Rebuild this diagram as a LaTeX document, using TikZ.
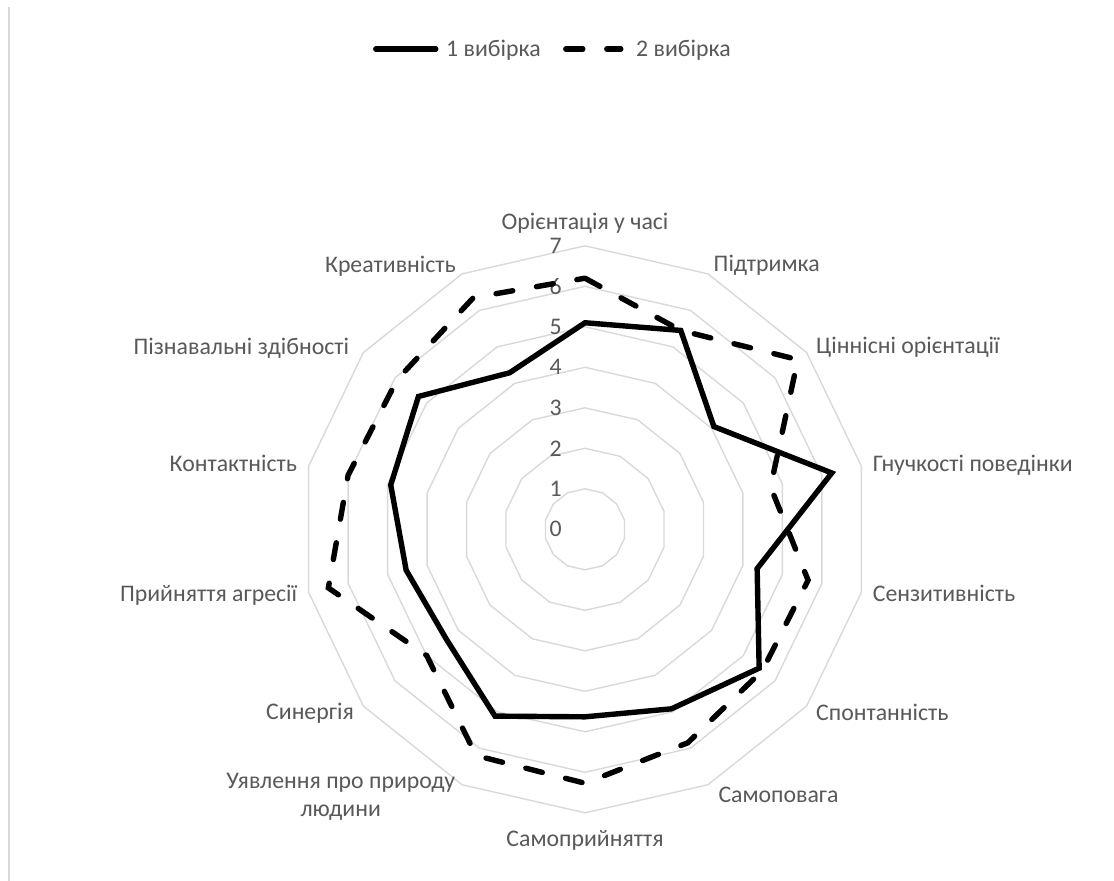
\documentclass[tikz,border=0pt]{standalone}
\usepackage{fontspec}
\setmainfont{Carlito}
\usetikzlibrary{calc}
\definecolor{gridgray}{HTML}{D9D9D9}
\definecolor{txtgray}{HTML}{595959}
\begin{document}
\begin{tikzpicture}[x=1pt,y=-1pt,
  lbl/.style={text=txtgray, font=\fontsize{23.8}{28}\selectfont, inner sep=0pt},
  gridline/.style={draw=gridgray, line width=1.4pt},
  ser1/.style={draw=black, line width=5.4pt, line cap=round},
  ser2/.style={draw=black, line width=5.4pt, line cap=round, dash pattern=on 17pt off 24pt}]
\useasboundingbox[fill=white] (0,0) rectangle (1114,881);
\coordinate (bt) at (9,7);
\coordinate (bb) at (9,881);
\draw[gridline] (bt) -- (bb);
\coordinate (C) at (585,529.3);
% rings
\foreach \r in {1,...,7}{
  \draw[gridline] ($(C)+(90:{\r*40.5pt})$)
    \foreach \k in {1,...,13}{ -- ($(C)+({90-\k*360/14}:{\r*40.5pt})$) } -- cycle;
}
% tick labels
\foreach \r in {0,...,7}{
  \node[lbl, anchor=east] (t\r) at ($(C)+(-23,{-\r*40.5})$) {\r};
}
% category labels
\node[lbl, anchor=base]      (l0)  at (585,229)   {Орієнтація у часі};
\node[lbl, anchor=base west] (l1)  at (713.5,271.7) {Підтримка};
\node[lbl, anchor=base west] (l2)  at (816,353.3) {Ціннісні орієнтації};
\node[lbl, anchor=base west] (l3)  at (872.7,471.7) {Гнучкості поведінки};
\node[lbl, anchor=base west] (l4)  at (872.7,601.7) {Сензитивність};
\node[lbl, anchor=base west] (l5)  at (816,720.7) {Спонтанність};
\node[lbl, anchor=base west] (l6)  at (718.3,802.7) {Самоповага};
\node[lbl, anchor=base]      (l7)  at (585,846.7) {Самоприйняття};
\node[lbl, anchor=base]      (l8a) at (340.7,788.3) {Уявлення про природу};
\node[lbl, anchor=base]      (l8b) at (340.7,816.7) {людини};
\node[lbl, anchor=base east] (l9)  at (354,719.3) {Синергія};
\node[lbl, anchor=base east] (l10) at (297.3,601.7) {Прийняття агресії};
\node[lbl, anchor=base east] (l11) at (297.3,471.7) {Контактність};
\node[lbl, anchor=base east] (l12) at (349.3,354) {Пізнавальні здібності};
\node[lbl, anchor=base east] (l13) at (456,272.3) {Креативність};
% data
\foreach \v [count=\k from 0] in {5.1,5.45,4.07,6.25,4.36,5.5,4.92,4.63,5.12,4.37,4.53,4.92,5.26,4.29}{
  \coordinate (s1-\k) at ($(C)+({90-\k*360/14}:{\v*40.5pt})$);
}
\foreach \v [count=\k from 0] in {6.2,5.45,6.72,4.7,5.65,5.6,5.85,6.27,6.2,5.0,6.5,6.0,5.93,6.35}{
  \coordinate (s2-\k) at ($(C)+({90-\k*360/14}:{\v*40.5pt})$);
}
\draw[ser1] (s1-0) \foreach \k in {1,...,13}{ -- (s1-\k) } -- cycle;
\draw[ser2] (s2-0) \foreach \k in {1,...,13}{ -- (s2-\k) } -- cycle;
% legend
\coordinate (la1) at (375.8,49);
\coordinate (la2) at (435.8,49);
\draw[ser1] (la1) -- (la2);
\node[lbl, anchor=base west] (lg1) at (446,56.7) {1 вибірка};
\coordinate (lb1) at (565.8,49);
\coordinate (lb2) at (620.8,49);
\draw[ser2] (lb1) -- (lb2);
\node[lbl, anchor=base west] (lg2) at (636,56.7) {2 вибірка};
\end{tikzpicture}
\end{document}
